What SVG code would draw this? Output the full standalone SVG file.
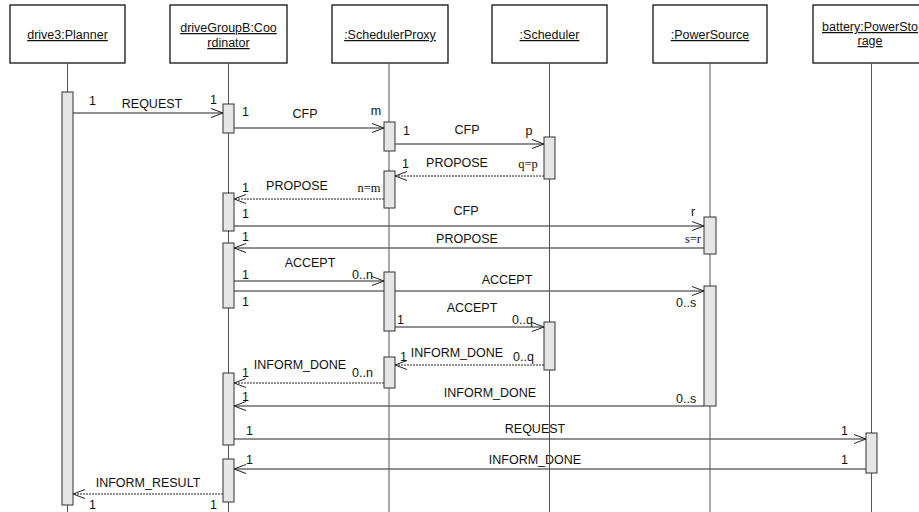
<svg xmlns="http://www.w3.org/2000/svg" width="919" height="512" viewBox="0 0 919 512">
<style>
.hdr{fill:#fff;stroke:#111;stroke-width:1.3}
.ht{font-family:"Liberation Sans",Arial,sans-serif;font-size:12.5px;fill:#111;text-anchor:middle;text-decoration:underline}
.ll{stroke:#555;stroke-width:1}
.act{fill:#e6e6e6;stroke:#333;stroke-width:1}
.msg{stroke:#222;stroke-width:1;fill:none}
.dash{stroke-dasharray:2 1}
.lb{font-family:"Liberation Sans",Arial,sans-serif;font-size:12.5px;fill:#111}
.c{text-anchor:middle}
.sf{font-family:"Liberation Serif","Times New Roman",serif;font-size:12.5px;fill:#111}
</style>
<defs>
<marker id="ah" markerWidth="14" markerHeight="11" refX="12" refY="5" orient="auto" markerUnits="userSpaceOnUse">
<path d="M0,0.5 L12,5 L0,9.5" fill="none" stroke="#222" stroke-width="1"/>
</marker>
</defs>
<rect width="919" height="512" fill="#fff"/>

<g id="connectors">
<line class="msg" x1="73" y1="113" x2="223" y2="113" marker-end="url(#ah)"/>
<line class="msg" x1="234" y1="128" x2="384" y2="128" marker-end="url(#ah)"/>
<line class="msg" x1="395" y1="144" x2="544" y2="144" marker-end="url(#ah)"/>
<line class="msg dash" x1="544" y1="176" x2="395" y2="176" marker-end="url(#ah)"/>
<line class="msg dash" x1="384" y1="199" x2="234" y2="199" marker-end="url(#ah)"/>
<line class="msg" x1="234" y1="226" x2="704" y2="226" marker-end="url(#ah)"/>
<line class="msg" x1="704" y1="248" x2="234" y2="248" marker-end="url(#ah)"/>
<line class="msg" x1="234" y1="281" x2="384" y2="281" marker-end="url(#ah)"/>
<line class="msg" x1="234" y1="291" x2="704" y2="291" marker-end="url(#ah)"/>
<line class="msg" x1="395" y1="327" x2="544" y2="327" marker-end="url(#ah)"/>
<line class="msg dash" x1="544" y1="365" x2="395" y2="365" marker-end="url(#ah)"/>
<line class="msg dash" x1="384" y1="383" x2="234" y2="383" marker-end="url(#ah)"/>
<line class="msg" x1="704" y1="406" x2="234" y2="406" marker-end="url(#ah)"/>
<line class="msg" x1="234" y1="439" x2="866" y2="439" marker-end="url(#ah)"/>
<line class="msg" x1="866" y1="469" x2="234" y2="469" marker-end="url(#ah)"/>
<line class="msg dash" x1="223" y1="494" x2="73" y2="494" marker-end="url(#ah)"/>

<text class="lb c" x="152" y="108">REQUEST</text>
<text class="lb" x="89" y="105">1</text>
<text class="lb" x="210" y="104">1</text>

<text class="lb c" x="305" y="118">CFP</text>
<text class="lb" x="242" y="116">1</text>
<text class="lb c" x="376" y="115">m</text>

<text class="lb c" x="467" y="134">CFP</text>
<text class="lb" x="403" y="135">1</text>
<text class="lb c" x="529" y="135">p</text>

<text class="lb c" x="457" y="167">PROPOSE</text>
<text class="lb" x="402" y="168">1</text>
<text class="sf c" x="528" y="168">q=p</text>

<text class="lb c" x="297" y="190">PROPOSE</text>
<text class="lb" x="242" y="192">1</text>
<text class="sf c" x="369" y="192">n=m</text>

<text class="lb c" x="466" y="215">CFP</text>
<text class="lb" x="242" y="218">1</text>
<text class="lb c" x="693" y="216">r</text>

<text class="lb c" x="467" y="243">PROPOSE</text>
<text class="lb" x="242" y="241">1</text>
<text class="sf c" x="693" y="243">s=r</text>

<text class="lb c" x="310" y="267">ACCEPT</text>
<text class="lb" x="242" y="279">1</text>
<text class="lb" x="352" y="279">0..n</text>

<text class="lb c" x="507" y="284">ACCEPT</text>
<text class="lb" x="242" y="306">1</text>
<text class="lb" x="676" y="307">0..s</text>

<text class="lb c" x="472" y="312">ACCEPT</text>
<text class="lb" x="397" y="324">1</text>
<text class="lb" x="512" y="324">0..q</text>

<text class="lb c" x="457" y="357">INFORM_DONE</text>
<text class="lb" x="400" y="361">1</text>
<text class="lb" x="513" y="361">0..q</text>

<text class="lb c" x="300" y="369">INFORM_DONE</text>
<text class="lb" x="242" y="377">1</text>
<text class="lb" x="352" y="377">0..n</text>

<text class="lb c" x="490" y="397">INFORM_DONE</text>
<text class="lb" x="242" y="401">1</text>
<text class="lb" x="676" y="403">0..s</text>

<text class="lb c" x="535" y="433">REQUEST</text>
<text class="lb" x="246" y="435">1</text>
<text class="lb" x="841" y="435">1</text>

<text class="lb c" x="535" y="464">INFORM_DONE</text>
<text class="lb" x="246" y="464">1</text>
<text class="lb" x="841" y="464">1</text>

<text class="lb c" x="148" y="487">INFORM_RESULT</text>
<text class="lb" x="89" y="509">1</text>
<text class="lb" x="210" y="509">1</text>
</g>

<g id="planner">
<rect class="hdr" x="10" y="5" width="115" height="58"/>
<text class="ht" x="67.5" y="39">drive3:Planner</text>
<line class="ll" x1="67.5" y1="63" x2="67.5" y2="512"/>
<rect class="act" x="62" y="92" width="11" height="413"/>
</g>

<g id="coordinator">
<rect class="hdr" x="170" y="5" width="117" height="58"/>
<text class="ht" x="228.5" y="32">driveGroupB:Coo</text>
<text class="ht" x="228.5" y="47">rdinator</text>
<line class="ll" x1="228.5" y1="63" x2="228.5" y2="512"/>
<rect class="act" x="223" y="104" width="11" height="29"/>
<rect class="act" x="223" y="193" width="11" height="38"/>
<rect class="act" x="223" y="243" width="11" height="65"/>
<rect class="act" x="223" y="373" width="11" height="72"/>
<rect class="act" x="223" y="459" width="11" height="43"/>
</g>

<g id="schedulerProxy">
<rect class="hdr" x="332" y="5" width="116" height="58"/>
<text class="ht" x="390" y="39">:SchedulerProxy</text>
<line class="ll" x1="389" y1="63" x2="389" y2="512"/>
<rect class="act" x="384" y="122" width="11" height="29"/>
<rect class="act" x="384" y="171" width="11" height="37"/>
<rect class="act" x="384" y="272" width="11" height="59"/>
<rect class="act" x="384" y="357" width="11" height="31"/>
</g>

<g id="scheduler">
<rect class="hdr" x="492" y="5" width="115" height="58"/>
<text class="ht" x="549.5" y="39">:Scheduler</text>
<line class="ll" x1="549.5" y1="63" x2="549.5" y2="512"/>
<rect class="act" x="544" y="137" width="11" height="42"/>
<rect class="act" x="544" y="322" width="11" height="48"/>
</g>

<g id="powerSource">
<rect class="hdr" x="653" y="5" width="114" height="58"/>
<text class="ht" x="710" y="39">:PowerSource</text>
<line class="ll" x1="710" y1="63" x2="710" y2="512"/>
<rect class="act" x="704" y="217" width="12" height="37"/>
<rect class="act" x="704" y="286" width="12" height="120"/>
</g>

<g id="battery">
<rect class="hdr" x="813" y="5" width="116" height="58"/>
<text class="ht" x="870" y="31">battery:PowerSto</text>
<text class="ht" x="870" y="45">rage</text>
<line class="ll" x1="871.5" y1="63" x2="871.5" y2="512"/>
<rect class="act" x="866" y="433" width="11" height="40"/>
</g>
</svg>
